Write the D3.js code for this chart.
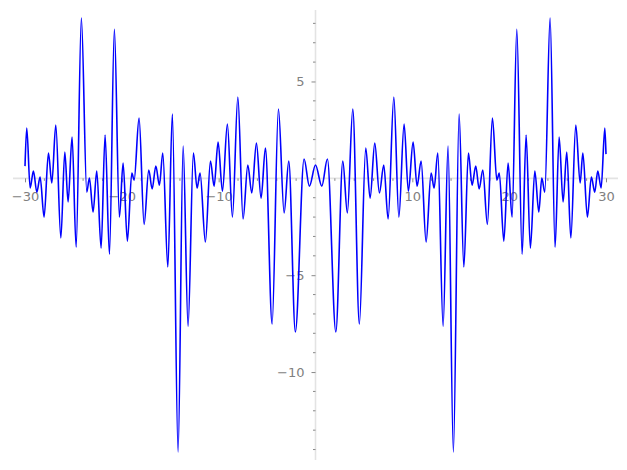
<!DOCTYPE html>
<html>
<head>
<meta charset="utf-8">
<title>plot</title>
<script src="https://cdn.jsdelivr.net/npm/d3@7"></script>
<style>
  body { margin: 0; background: #fff; }
  text { font-family: "DejaVu Sans", sans-serif; font-size: 13px; fill: #808080; }
</style>
</head>
<body>
<script>
// turning points of the curve
var xValues = [-30.0, -29.82, -29.47, -29.13, -28.78, -28.44, -28.03, -27.58, -27.23, -26.82,
  -26.30, -25.89, -25.55, -25.14, -24.72, -24.18, -23.62, -23.35, -22.97, -22.59,
  -22.14, -21.73, -21.28, -20.77, -20.25, -19.87, -19.43, -18.97, -18.73, -18.22,
  -17.70, -17.22, -16.87, -16.49, -16.12, -15.77, -15.25, -14.78, -14.19, -13.67,
  -13.16, -12.61, -12.23, -11.92, -11.37, -10.85, -10.47, -10.06, -9.61, -9.10,
  -8.58, -8.02, -7.48, -6.99, -6.58, -6.10, -5.62, -5.17, -4.48, -3.83,
  -3.24, -2.76, -2.08, -1.18, -0.63, 0.0, 0.65, 1.23, 2.10, 2.82,
  3.29, 3.85, 4.53, 5.19, 5.64, 6.12, 6.60, 7.05, 7.50, 8.09,
  8.61, 9.15, 9.59, 10.08, 10.49, 10.91, 11.42, 11.94, 12.25, 12.63,
  13.18, 13.69, 14.24, 14.83, 15.32, 15.79, 16.17, 16.55, 16.90, 17.28,
  17.75, 18.27, 18.73, 18.98, 19.45, 19.89, 20.30, 20.79, 21.34, 21.75,
  22.19, 22.65, 23.06, 23.37, 23.68, 24.23, 24.74, 25.16, 25.57, 25.95,
  26.37, 26.88, 27.33, 27.61, 28.08, 28.49, 28.84, 29.15, 29.50, 29.88, 30.0];

var yValues = [0.63, 2.60, -0.50, 0.38, -0.71, 0.07, -2.00, 1.31, -0.24, 2.75,
  -3.08, 1.36, -1.22, 2.13, -3.55, 8.28, -0.71, 0.02, -1.74, 0.38,
  -3.60, 2.24, -3.91, 7.70, -2.00, 0.79, -3.24, 0.27, -0.09, 3.11,
  -2.38, 0.43, -0.55, 0.64, -0.35, 1.31, -4.58, 3.32, -14.13, 1.67,
  -7.63, 1.31, -0.50, 0.27, -3.29, 0.89, -0.40, 1.87, -0.66, 2.80,
  -2.00, 4.20, -2.10, 0.69, -0.76, 1.82, -1.02, 1.56, -7.52, 3.58,
  -1.79, 0.89, -7.93, 1.00, -0.40, 0.69, -0.40, 1.00, -7.93, 0.89,
  -1.79, 3.58, -7.52, 1.56, -1.02, 1.82, -0.76, 0.69, -2.10, 4.20,
  -2.00, 2.80, -0.66, 1.87, -0.40, 0.89, -3.29, 0.27, -0.50, 1.31,
  -7.63, 1.67, -14.13, 3.32, -4.58, 1.31, -0.35, 0.64, -0.55, 0.43,
  -2.38, 3.11, -0.09, 0.27, -3.24, 0.79, -2.00, 7.70, -3.91, 2.24,
  -3.60, 0.38, -1.74, 0.02, -0.71, 8.28, -3.55, 2.13, -1.22, 1.36,
  -3.08, 2.75, -0.24, 1.31, -2.00, 0.07, -0.71, 0.38, -0.50, 2.60, 1.25];

var xTicks = [-30, -20, -10, 10, 20, 30];
var yTicks = [5, -5, -10];
var xLimits = [-31.24, 31.24];
var yLimits = [-14.54, 8.69];

var width = 627, height = 470;

var points = xValues.map(function(d, i) {
  return {x: d, y: yValues[i]};
});

var svg = d3.select("body")
  .append("svg")
  .attr("width", width)
  .attr("height", height);

var x = d3.scaleLinear()
  .domain(xLimits)
  .range([13, 618]);

var y = d3.scaleLinear()
  .domain(yLimits)
  .range([460, 10]);

// minor tick positions (every 2 on x, every 1 on y)
var xMinor = d3.range(-30, 31, 2).filter(function(d) { return d % 10 != 0; });
var yMinor = d3.range(-14, 9, 1).filter(function(d) { return d % 5 != 0; });

// x axis, drawn through y = 0
var xAxis = d3.axisBottom(x)
  .tickValues(xTicks)
  .tickSize(4)
  .tickPadding(9)
  .tickFormat(d3.format("d"));

var gx = svg.append("g")
  .attr("transform", "translate(0," + y(0) + ")")
  .call(xAxis);

gx.select(".domain")
  .attr("d", "M" + x(xLimits[0]) + ",0H" + x(xLimits[1]))
  .attr("stroke", "#e3e3e3")
  .attr("stroke-width", 1.6);

gx.selectAll(".tick line").attr("stroke", "#888");
gx.selectAll(".tick text")
  .attr("fill", "#808080")
  .style("font-size", "13px")
  .style("font-family", "DejaVu Sans");

gx.selectAll(".minor")
  .data(xMinor)
  .enter()
  .append("line")
  .attr("class", "minor")
  .attr("x1", function(d) { return x(d); })
  .attr("x2", function(d) { return x(d); })
  .attr("y1", 0)
  .attr("y2", 2.5)
  .attr("stroke", "#888");

// y axis, drawn through x = 0
var yAxis = d3.axisLeft(y)
  .tickValues(yTicks)
  .tickSize(4)
  .tickPadding(7)
  .tickFormat(d3.format("d"));

var gy = svg.append("g")
  .attr("transform", "translate(" + x(0) + ",0)")
  .call(yAxis);

gy.select(".domain")
  .attr("d", "M0," + y(yLimits[1]) + "V" + y(yLimits[0]))
  .attr("stroke", "#e3e3e3")
  .attr("stroke-width", 1.6);

gy.selectAll(".tick line").attr("stroke", "#888");
gy.selectAll(".tick text")
  .attr("fill", "#808080")
  .style("font-size", "13px")
  .style("font-family", "DejaVu Sans");

gy.selectAll(".minor")
  .data(yMinor)
  .enter()
  .append("line")
  .attr("class", "minor")
  .attr("x1", -2.5)
  .attr("x2", 0)
  .attr("y1", function(d) { return y(d); })
  .attr("y2", function(d) { return y(d); })
  .attr("stroke", "#888");

// the curve
var line = d3.line()
  .x(function(d) { return x(d.x); })
  .y(function(d) { return y(d.y); })
  .curve(d3.curveMonotoneX);

svg.append("path")
  .datum(points)
  .attr("fill", "none")
  .attr("stroke", "#0000ff")
  .attr("stroke-width", 1.6)
  .attr("d", line);
</script>
</body>
</html>
